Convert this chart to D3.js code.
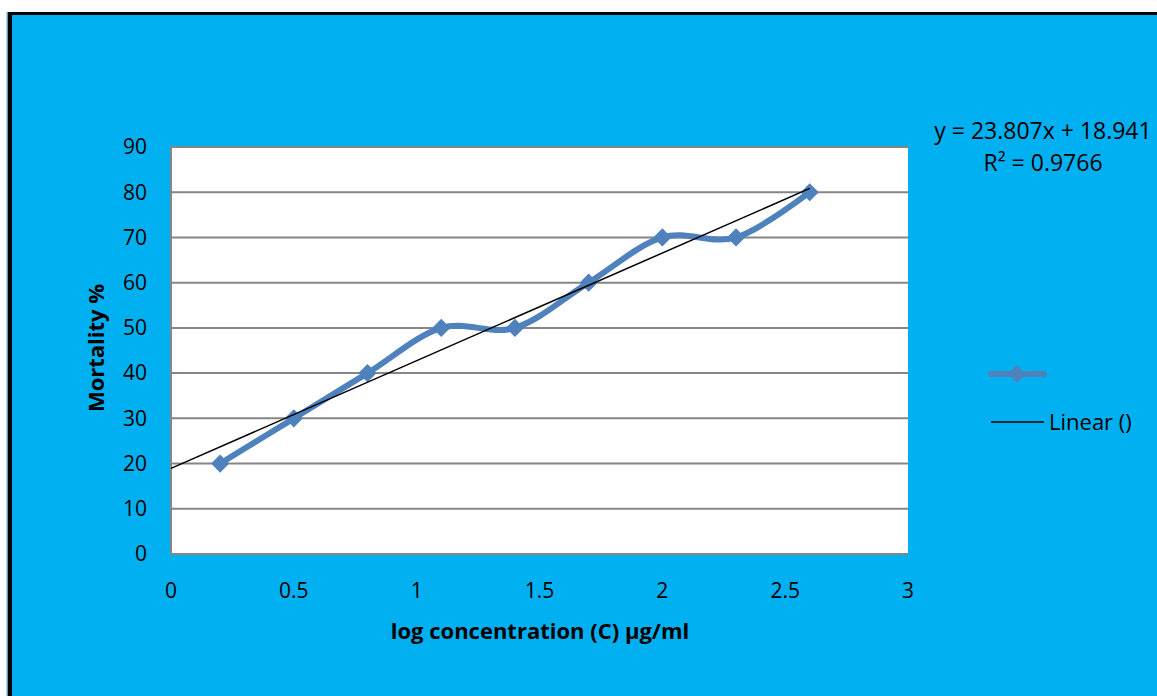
<!DOCTYPE html>
<html>
<head>
<meta charset="utf-8">
<title>Mortality vs log concentration</title>
<script src="https://cdn.jsdelivr.net/npm/d3@7"></script>
<style>
  html, body { margin: 0; padding: 0; background: #fff; }
  svg { display: block; font-family: "Open Sans", "Noto Sans", sans-serif; }
</style>
</head>
<body>
<svg width="1157" height="696"></svg>
<script>
// data
var logConc = [0.2, 0.5, 0.8, 1.1, 1.4, 1.7, 2.0, 2.3, 2.6];
var mortality = [20, 30, 40, 50, 50, 60, 70, 70, 80];
var xTicks = [0, 0.5, 1, 1.5, 2, 2.5, 3];
var yTicks = [0, 10, 20, 30, 40, 50, 60, 70, 80, 90];
var trendSlope = 23.807, trendIntercept = 18.941;
var trendRange = [0, 2.6];

var svg = d3.select("svg");

// outer chart frame
svg.append("rect").attr("x", 7).attr("y", 12).attr("width", 1160).attr("height", 700)
    .attr("fill", "#00B0F0");
svg.append("line").attr("x1", 7).attr("x2", 7).attr("y1", 12).attr("y2", 696)
    .attr("stroke", "#999").attr("stroke-width", 1);
svg.append("line").attr("x1", 10).attr("x2", 10).attr("y1", 12).attr("y2", 696)
    .attr("stroke", "#000").attr("stroke-width", 4);
svg.append("line").attr("x1", 8).attr("x2", 1157).attr("y1", 13.5).attr("y2", 13.5)
    .attr("stroke", "#000").attr("stroke-width", 3);

var plot = { left: 171, right: 908, top: 147, bottom: 554 };

var x = d3.scaleLinear().domain([0, 3]).range([plot.left, plot.right]);
var y = d3.scaleLinear().domain([0, 90]).range([plot.bottom, plot.top]);

// plot area
svg.append("rect")
    .attr("x", plot.left).attr("y", plot.top)
    .attr("width", plot.right - plot.left).attr("height", plot.bottom - plot.top)
    .attr("fill", "#fff");

// gridlines
svg.append("g").selectAll("line").data(yTicks.slice(1)).enter().append("line")
    .attr("x1", plot.left).attr("x2", plot.right)
    .attr("y1", function (d) { return y(d); }).attr("y2", function (d) { return y(d); })
    .attr("stroke", "#868686").attr("stroke-width", 2);

// axes lines
svg.append("line").attr("x1", plot.left).attr("x2", plot.left)
    .attr("y1", plot.top).attr("y2", plot.bottom).attr("stroke", "#868686").attr("stroke-width", 2);
svg.append("line").attr("x1", plot.left).attr("x2", plot.right)
    .attr("y1", plot.bottom).attr("y2", plot.bottom).attr("stroke", "#868686").attr("stroke-width", 2);

// tick labels
svg.append("g").selectAll("text").data(yTicks).enter().append("text")
    .attr("x", 147).attr("y", function (d) { return y(d); })
    .attr("dy", "0.35em").attr("text-anchor", "end")
    .attr("font-size", 21).attr("fill", "#000")
    .text(function (d) { return d; });

svg.append("g").selectAll("text").data(xTicks).enter().append("text")
    .attr("x", function (d) { return x(d); }).attr("y", 598)
    .attr("text-anchor", "middle")
    .attr("font-size", 21).attr("fill", "#000")
    .text(function (d) { return d; });

// axis titles
svg.append("text")
    .attr("transform", "translate(104,348) rotate(-90)")
    .attr("text-anchor", "middle").attr("font-size", 22).attr("font-weight", "bold")
    .text("Mortality %");
svg.append("text")
    .attr("x", 540).attr("y", 639)
    .attr("text-anchor", "middle").attr("font-size", 22).attr("font-weight", "bold")
    .text("log concentration (C) µg/ml");

// series line, smoothed
var pts = logConc.map(function (d, i) { return [d, mortality[i]]; });
var line = d3.line()
    .x(function (d) { return x(d[0]); })
    .y(function (d) { return y(d[1]); })
    .curve(d3.curveCardinal.tension(0));

svg.append("path").datum(pts)
    .attr("d", line)
    .attr("fill", "none").attr("stroke", "#4F81BD").attr("stroke-width", 6)
    .attr("stroke-linejoin", "round").attr("stroke-linecap", "round");

var diamond = d3.symbol().type(d3.symbolDiamond2).size(210);
svg.append("g").selectAll("path").data(pts).enter().append("path")
    .attr("d", diamond)
    .attr("transform", function (d) { return "translate(" + x(d[0]) + "," + y(d[1]) + ")"; })
    .attr("fill", "#4F81BD");

// linear trendline
svg.append("line")
    .attr("x1", x(trendRange[0])).attr("y1", y(trendSlope * trendRange[0] + trendIntercept))
    .attr("x2", x(trendRange[1])).attr("y2", y(trendSlope * trendRange[1] + trendIntercept))
    .attr("stroke", "#000").attr("stroke-width", 1.5);

// equation
svg.append("text").attr("x", 1043).attr("y", 139).attr("text-anchor", "middle")
    .attr("font-size", 23).text("y = 23.807x + 18.941");
svg.append("text").attr("x", 1043).attr("y", 171).attr("text-anchor", "middle")
    .attr("font-size", 23).text("R² = 0.9766");

// legend
svg.append("line").attr("x1", 991).attr("x2", 1044).attr("y1", 374).attr("y2", 374)
    .attr("stroke", "#4F81BD").attr("stroke-width", 6).attr("stroke-linecap", "round");
svg.append("path").attr("d", diamond).attr("transform", "translate(1017,374)")
    .attr("fill", "#4F81BD");
svg.append("line").attr("x1", 991).attr("x2", 1044).attr("y1", 422).attr("y2", 422)
    .attr("stroke", "#000").attr("stroke-width", 1.5);
svg.append("text").attr("x", 1049).attr("y", 422).attr("dy", "0.35em")
    .attr("font-size", 22).text("Linear ()");
</script>
</body>
</html>
